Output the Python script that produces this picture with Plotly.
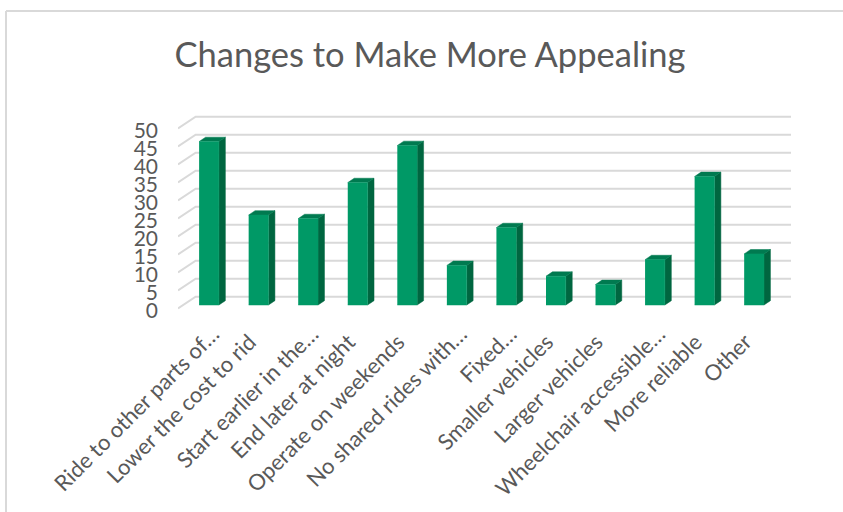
import plotly.graph_objects as go

TITLE = "Changes to Make More Appealing"
categories = [
    "Ride to other parts of…",
    "Lower the cost to rid",
    "Start earlier in the…",
    "End later at night",
    "Operate on weekends",
    "No shared rides with…",
    "Fixed…",
    "Smaller vehicles",
    "Larger vehicles",
    "Wheelchair accessible…",
    "More reliable",
    "Other",
]
values = [45.4, 25, 24, 34, 44.3, 11, 21.5, 8, 5.7, 12.6, 35.7, 14.2]
y_ticks = [0, 5, 10, 15, 20, 25, 30, 35, 40, 45, 50]

FRONT = "#009966"
SIDE = "#006640"
TOP = "#007a50"
GRID = "#d9d9d9"
TEXT = "#595959"

WIDTH, HEIGHT = 843, 512
# fake 3D: bars sit part way into the box, all offsets in axis units
HALF = 0.2
DX, DY = 0.13, 1.22
BASE = 1.66
FLOOR_Y = 0.69
WALL_X, WALL_Y = -0.27, 3.97
X_MIN, X_MAX = -0.626, 11.745
LABEL_SHIFT = 0.08
# labels cut with an ellipsis end further out than the whole ones
WHOLE_LABEL_SHIFT = -0.1


def face(fig, xs, ys, color):
    fig.add_trace(go.Scatter(
        x=xs, y=ys, mode="lines", fill="toself", fillcolor=color,
        line=dict(color=color, width=0.5), hoverinfo="skip", showlegend=False,
    ))


fig = go.Figure()

for v in y_ticks:
    fig.add_trace(go.Scatter(
        x=[X_MIN, WALL_X, X_MAX],
        y=[v + FLOOR_Y, v + WALL_Y, v + WALL_Y],
        mode="lines", line=dict(color=GRID, width=2),
        hoverinfo="skip", showlegend=False,
    ))

for i, v in enumerate(values):
    left, right = i - HALF, i + HALF
    bottom, top = BASE, BASE + v
    face(fig, [right, right + DX, right + DX, right],
         [bottom, bottom + DY, top + DY, top], SIDE)
    face(fig, [left, left + DX, right + DX, right],
         [top, top + DY, top + DY, top], TOP)
    face(fig, [left, right, right, left],
         [bottom, bottom, top, top], FRONT)

tick_x = [
    i + LABEL_SHIFT + (0 if c.endswith("…") else WHOLE_LABEL_SHIFT)
    for i, c in enumerate(categories)
]
tick_text = [c if c.endswith("…") else c + "\u00a0\u00a0" for c in categories]

fig.update_layout(
    width=WIDTH, height=HEIGHT,
    margin=dict(l=178, r=52, t=113, b=201, autoexpand=False),
    paper_bgcolor="white", plot_bgcolor="white",
    font=dict(family="Lato", color=TEXT),
    title=dict(
        text=TITLE, font=dict(family="Lato", size=34.5, color=TEXT),
        x=430 / WIDTH, xanchor="center", y=1 - 55 / HEIGHT, yanchor="middle",
    ),
    shapes=[
        dict(type="line", xref="paper", yref="paper",
             x0=-172 / 613, x1=665 / 613, y0=1 + 102 / 198, y1=1 + 102 / 198,
             line=dict(color=GRID, width=2)),
        dict(type="line", xref="paper", yref="paper",
             x0=-172 / 613, x1=-172 / 613, y0=1 + 102 / 198, y1=-201 / 198,
             line=dict(color=GRID, width=2)),
    ],
)
fig.update_xaxes(
    range=[X_MIN, X_MAX], showgrid=False, zeroline=False, showline=False,
    tickmode="array", tickvals=tick_x, ticktext=tick_text,
    tickangle=-45, ticks="", ticklabelstandoff=5,
    tickfont=dict(size=22, color=TEXT),
)
fig.update_yaxes(
    range=[0, 55], showgrid=False, zeroline=False, showline=False,
    tickmode="array", tickvals=y_ticks, ticks="", ticklabelstandoff=19,
    tickfont=dict(size=21, color=TEXT),
)

fig.write_html("out.html", config={"displayModeBar": False},
               post_script="document.body.style.margin='0';")
